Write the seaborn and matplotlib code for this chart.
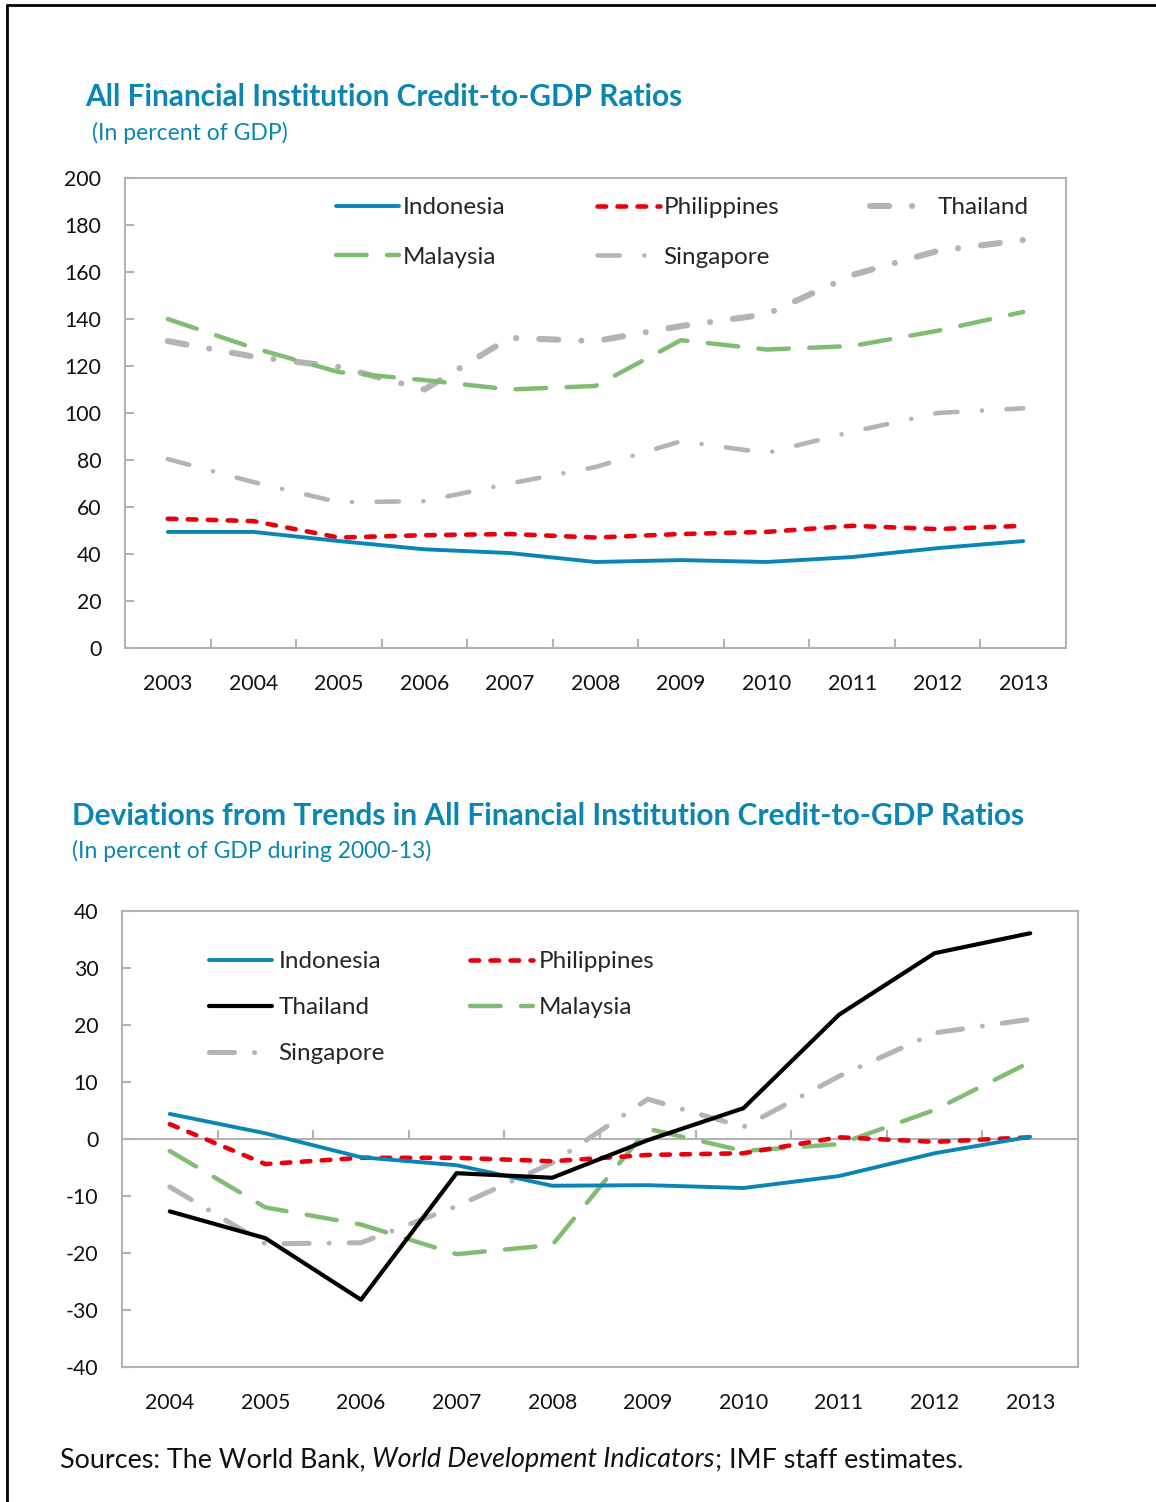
import matplotlib
matplotlib.use("Agg")
import matplotlib.pyplot as plt
from matplotlib.lines import Line2D
import seaborn as sns

# ---- data ----
years_top = [2003, 2004, 2005, 2006, 2007, 2008, 2009, 2010, 2011, 2012, 2013]
indonesia_top = [49.4, 49.4, 45.5, 42.0, 40.4, 36.6, 37.4, 36.6, 38.7, 42.5, 45.5]
philippines_top = [55.0, 54.0, 47.0, 48.0, 48.5, 47.0, 48.5, 49.4, 52.0, 50.6, 52.0]
thailand_top = [130.6, 124.0, 119.6, 110.0, 132.0, 130.6, 137.0, 142.0, 158.7, 169.0, 173.6]
malaysia_top = [140.0, 127.7, 117.4, 114.0, 110.0, 111.5, 131.0, 127.0, 128.5, 135.0, 143.0]
singapore_top = [80.4, 70.6, 62.0, 62.5, 70.0, 77.0, 88.0, 83.0, 92.0, 100.0, 102.0]

years_bot = [2004, 2005, 2006, 2007, 2008, 2009, 2010, 2011, 2012, 2013]
indonesia_bot = [4.4, 1.0, -3.2, -4.6, -8.2, -8.1, -8.6, -6.5, -2.5, 0.4]
philippines_bot = [2.6, -4.4, -3.3, -3.3, -3.9, -2.8, -2.5, 0.3, -0.5, 0.3]
thailand_bot = [-12.7, -17.4, -28.2, -6.0, -6.8, -0.2, 5.4, 21.8, 32.6, 36.1]
malaysia_bot = [-2.1, -12.0, -15.0, -20.2, -18.6, 1.8, -2.1, -0.9, 5.1, 13.5]
singapore_bot = [-8.4, -18.4, -18.2, -11.8, -4.2, 7.0, 2.1, 11.0, 18.6, 21.0]

TITLE_TOP = "All Financial Institution Credit-to-GDP Ratios"
SUB_TOP = "(In percent of GDP)"
TITLE_BOT = "Deviations from Trends in All Financial Institution Credit-to-GDP Ratios"
SUB_BOT = "(In percent of GDP during 2000-13)"

BLUE = "#0b86b4"
RED = "#e8000e"
GRAY = "#b4b4b4"
GREEN = "#80bd72"
AXIS = "#b3b3b3"
TXT = "#111111"

W, H = 1156, 1502

sns.set_theme(style="white")
plt.rcParams["font.family"] = ["Lato", "DejaVu Sans"]
plt.rcParams["lines.scale_dashes"] = False
plt.rcParams["axes.unicode_minus"] = False


def _fx(px):
    return px / W


def _fy(py):
    return 1 - py / H


def _axes(fig, l, t, r, b):
    return fig.add_axes([_fx(l), _fy(b), _fx(r - l), (b - t) / H])


def _style(ax, years, ylim, yticks, minor_on_spine=True):
    ax.set_xlim(years[0] - 0.5, years[-1] + 0.5)
    ax.set_ylim(*ylim)
    ax.set_yticks(yticks)
    ax.set_xticks(years)
    ax.set_xticklabels([str(y) for y in years])
    if minor_on_spine:
        ax.set_xticks([y + 0.5 for y in years[:-1]], minor=True)
    ax.tick_params(axis="x", which="major", bottom=True, length=0, pad=19,
                   labelsize=15.3, labelcolor=TXT)
    ax.tick_params(axis="x", which="minor", bottom=True, direction="in",
                   length=6.5, width=1.5, color=AXIS)
    ax.tick_params(axis="y", left=True, direction="in", length=6.5, width=1.5,
                   color=AXIS, pad=17, labelsize=15.3, labelcolor=TXT)
    for s in ax.spines.values():
        s.set_color(AXIS)
        s.set_linewidth(1.5)
    ax.set_xlabel("")
    ax.set_ylabel("")


def _line(ax, x, y, color, lw, ls, name):
    sns.lineplot(x=x, y=y, ax=ax, color=color, linewidth=lw, linestyle=ls,
                 dash_capstyle="round", solid_capstyle="round",
                 solid_joinstyle="round", dash_joinstyle="round",
                 label=name, legend=False)
    return ax.lines[-1]


fig = plt.figure(figsize=(W / 100, H / 100), dpi=100)

# ---- top chart ----
ax1 = _axes(fig, 125, 178, 1066, 648)
h = {}
h["Singapore"] = _line(ax1, years_top, singapore_top, GRAY, 3.3, (0, (16, 17.7, 0.01, 17.7)), "Singapore")
h["Thailand"] = _line(ax1, years_top, thailand_top, GRAY, 4.4, (0, (13.7, 16.6, 0.01, 16.6)), "Thailand")
h["Malaysia"] = _line(ax1, years_top, malaysia_top, GREEN, 3.2, (0, (22, 14.7)), "Malaysia")
h["Philippines"] = _line(ax1, years_top, philippines_top, RED, 3.3, (0, (6.2, 8.2)), "Philippines")
h["Indonesia"] = _line(ax1, years_top, indonesia_top, BLUE, 2.8, "-", "Indonesia")
_style(ax1, years_top, (0, 200), range(0, 201, 20))

order = ["Indonesia", "Malaysia", "Philippines", "Singapore", "Thailand"]
ax1.legend([h[k] for k in order], order, ncol=3, loc="upper left",
           bbox_to_anchor=(_fx(336), _fy(197)), bbox_transform=fig.transFigure,
           frameon=False, fontsize=17.5, handlelength=2.6, handletextpad=0.15,
           columnspacing=3.75, labelspacing=1.19, borderpad=0, borderaxespad=0)

fig.text(_fx(85), _fy(97), TITLE_TOP, color=BLUE, fontsize=21.4, fontweight="bold",
         ha="left", va="center")
fig.text(_fx(92), _fy(133), SUB_TOP, color=BLUE, fontsize=16.5, ha="left", va="center")

# ---- bottom chart ----
ax2 = _axes(fig, 122, 911, 1078, 1367)
g = {}
g["Singapore"] = _line(ax2, years_bot, singapore_bot, GRAY, 3.6, (0, (18, 14.4, 0.01, 14.4)), "Singapore")
g["Malaysia"] = _line(ax2, years_bot, malaysia_bot, GREEN, 3.2, (0, (22, 14.7)), "Malaysia")
g["Philippines"] = _line(ax2, years_bot, philippines_bot, RED, 3.3, (0, (6.2, 8.2)), "Philippines")
g["Indonesia"] = _line(ax2, years_bot, indonesia_bot, BLUE, 2.8, "-", "Indonesia")
g["Thailand"] = _line(ax2, years_bot, thailand_bot, "black", 3.0, "-", "Thailand")
_style(ax2, years_bot, (-40, 40), range(-40, 41, 10), minor_on_spine=False)
ax2.axhline(0, color=AXIS, lw=1.5, zorder=1)
ax2.vlines([y + 0.5 for y in years_bot[:-1]], 0, 1.5, color=AXIS, lw=1.5, zorder=1)

order = ["Indonesia", "Thailand", "Singapore", "Philippines", "Malaysia"]
ax2.legend([g[k] for k in order], order, ncol=2, loc="upper left",
           bbox_to_anchor=(_fx(209), _fy(951)), bbox_transform=fig.transFigure,
           frameon=False, fontsize=17.5, handlelength=2.6, handletextpad=0.25,
           columnspacing=3.5, labelspacing=1.03, borderpad=0, borderaxespad=0)

fig.text(_fx(72), _fy(816), TITLE_BOT, color=BLUE, fontsize=21.5, fontweight="bold",
         ha="left", va="center")
fig.text(_fx(72), _fy(851), SUB_BOT, color=BLUE, fontsize=16.5, ha="left", va="center")

# ---- sources line with italic title ----
renderer = fig.canvas.get_renderer()
x = 60
for piece, style in [("Sources: The World Bank, ", "normal"),
                     ("World Development Indicators", "italic"),
                     ("; IMF staff estimates.", "normal")]:
    t = fig.text(_fx(x), _fy(1460), piece, fontsize=19.4, fontstyle=style,
                 color=TXT, ha="left", va="center")
    x += t.get_window_extent(renderer).width

# ---- outer frame (left and top edges) ----
fig.add_artist(Line2D([_fx(7), _fx(7)], [_fy(5), 0], transform=fig.transFigure,
                      color="black", lw=2))
fig.add_artist(Line2D([_fx(7), 1], [_fy(5), _fy(5)], transform=fig.transFigure,
                      color="black", lw=2))

fig.savefig("out.png", dpi=100)
